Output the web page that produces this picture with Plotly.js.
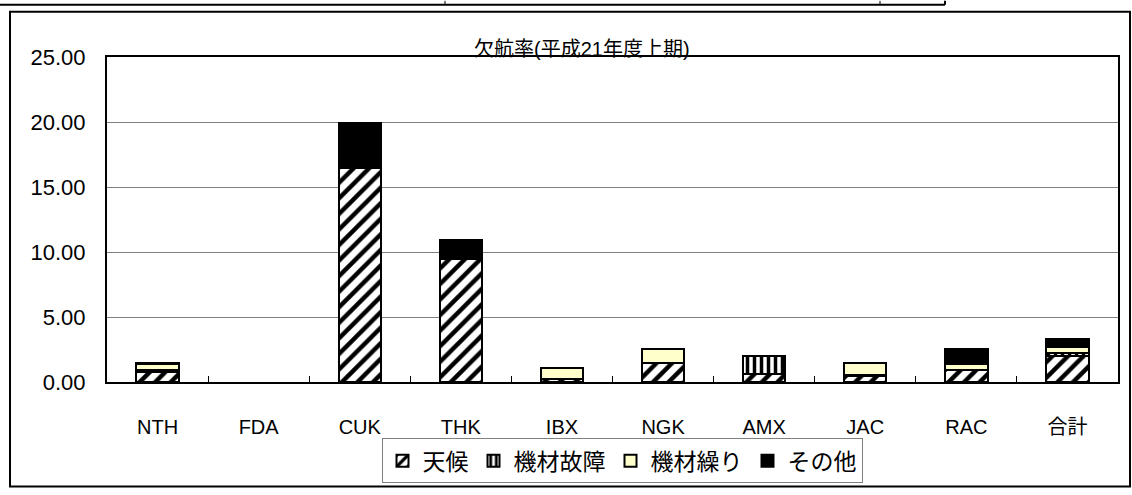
<!DOCTYPE html>
<html>
<head>
<meta charset="utf-8">
<script src="https://cdn.plot.ly/plotly-3.0.1.min.js"></script>
<style>html,body{margin:0;padding:0;background:#fff;}#chart{width:1132px;height:495px;}</style>
</head>
<body>
<div id="chart"></div>
<script>
const categories = ['NTH','FDA','CUK','THK','IBX','NGK','AMX','JAC','RAC','合計'];
const seriesNames = ['天候','機材故障','機材繰り','その他'];
const weather   = [0.75, 0, 16.5, 9.5, 0.2, 1.5, 0.6, 0.5, 0.9, 2.0];
const equipFail = [0.15, 0, 0, 0, 0.05, 0, 1.4, 0.05, 0, 0.2];
const equipRot  = [0.5, 0, 0, 0, 0.85, 1.05, 0, 0.95, 0.45, 0.5];
const other     = [0.1, 0, 3.4, 1.4, 0, 0, 0, 0, 1.2, 0.6];
const yTicks = [0, 5, 10, 15, 20, 25];
const chartTitle = '欠航率(平成21年度上期)';

const FONT = '"Liberation Sans", Arial, "Noto Sans CJK JP", sans-serif';
const line = {color:'#000', width:2};
const nz = arr => arr.map(v => v === 0 ? null : v);
const traces = [
  {name: seriesNames[0], y: nz(weather), marker:{color:'#fff', line, pattern:{shape:'/', fgcolor:'#000', bgcolor:'#fff', size:11, solidity:0.4}}},
  {name: seriesNames[1], y: nz(equipFail), marker:{color:'#fff', line, pattern:{shape:'|', fgcolor:'#000', bgcolor:'#fff', size:7, solidity:0.5}}},
  {name: seriesNames[2], y: nz(equipRot), marker:{color:'#FFFFCC', line}},
  {name: seriesNames[3], y: nz(other), marker:{color:'#000', line}}
].map(t => Object.assign({type:'bar', x: categories, width:0.42, hoverinfo:'y'}, t));

const px = x => (x - 107) / 1011;
const py = y => (387 - y) / 330;
const shapes = [
  {type:'rect', xref:'paper', yref:'paper', x0:px(10), x1:px(1130), y0:py(493), y1:py(11), line:{color:'#000', width:2}, layer:'below'},
  {type:'line', xref:'paper', yref:'paper', x0:px(0), x1:px(945), y0:py(4), y1:py(4), line:{color:'#000', width:2}},
  {type:'line', xref:'paper', yref:'paper', x0:px(445), x1:px(445), y0:py(0), y1:py(4), line:{color:'#000', width:1}},
  {type:'line', xref:'paper', yref:'paper', x0:px(880), x1:px(880), y0:py(0), y1:py(4), line:{color:'#000', width:1}},
  {type:'line', xref:'paper', yref:'paper', x0:px(945), x1:px(945), y0:py(0), y1:py(4), line:{color:'#000', width:2}}
];

const layout = {
  width:1132, height:495,
  margin:{l:107, r:14, t:57, b:108},
  paper_bgcolor:'#fff', plot_bgcolor:'#fff',
  barmode:'stack',
  font:{family:FONT, color:'#000', size:20},
  annotations:[{text:chartTitle, xref:'paper', yref:'paper', x:px(582), y:py(49), xanchor:'center', yanchor:'middle', showarrow:false, font:{family:FONT, size:20, color:'#000'}}],
  xaxis:{type:'category', showline:true, linecolor:'#000', linewidth:2, mirror:true, ticks:'inside', tickson:'boundaries', ticklen:6, tickcolor:'#000', ticklabelstandoff:26, tickfont:{family:FONT, size:20}, fixedrange:true},
  yaxis:{range:[0,25], tickvals:yTicks, tickformat:'.2f', showline:true, linecolor:'#000', linewidth:2, mirror:true, ticks:'', showgrid:true, gridcolor:'#808080', gridwidth:1, ticklabelstandoff:15, tickfont:{family:FONT, size:22}, zeroline:false},
  legend:{orientation:'h', x:px(622), xanchor:'center', y:py(467), yanchor:'middle', bordercolor:'#808080', borderwidth:1, font:{family:FONT, size:23}, traceorder:'normal'},
  shapes,
  showlegend:true
};
Plotly.newPlot('chart', traces, layout, {displayModeBar:false, staticPlot:true});
</script>
</body>
</html>
